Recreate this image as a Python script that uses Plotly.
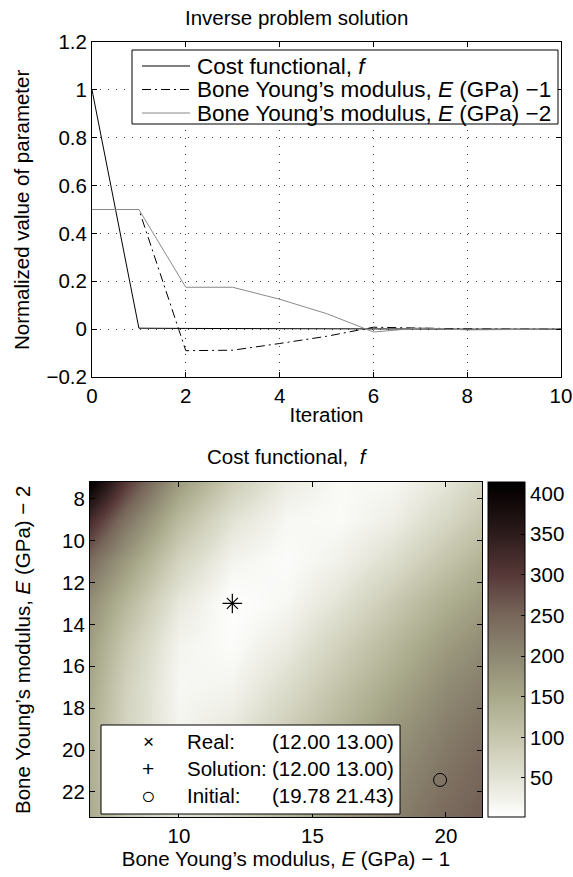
import plotly.graph_objects as go

# ---------------- data: top panel ----------------
iterations = [0, 1, 2, 3, 4, 5, 6, 7, 8, 9, 10]
cost_f = [1.0, 0.004, 0.003, 0.002, 0.001, 0.001, 0.0, 0.0, 0.0, 0.0, 0.0]
young_e1 = [0.5, 0.5, -0.09, -0.088, -0.06, -0.03, 0.008, 0.003, 0.001, 0.0, 0.0]
young_e2 = [0.5, 0.5, 0.175, 0.175, 0.125, 0.065, -0.012, 0.005, -0.003, 0.0, 0.0]
series_names = ["Cost functional, <i>f</i>",
                "Bone Young\u2019s modulus, <i>E</i> (GPa) \u22121",
                "Bone Young\u2019s modulus, <i>E</i> (GPa) \u22122"]
top_xticks = [0, 2, 4, 6, 8, 10]
top_yticks = [-0.2, 0, 0.2, 0.4, 0.6, 0.8, 1.0, 1.2]
top_yticklabels = ["\u22120.2", "0", "0.2", "0.4", "0.6", "0.8", "1", "1.2"]

# ---------------- data: bottom panel (cost surface) ----------------
grid_e1 = [6.67, 8, 10, 12, 14, 16, 18, 20, 21.35]
grid_e2 = [7.2, 9, 11, 13, 15, 17, 19, 21, 23.2]
cost_surface = [
    [414, 300, 170, 90, 35, 12, 15, 45, 75],
    [320, 230, 120, 50, 15, 10, 30, 70, 100],
    [240, 170, 75, 20, 8, 25, 60, 105, 135],
    [190, 125, 40, 2, 15, 50, 95, 140, 165],
    [165, 95, 20, 8, 35, 80, 125, 170, 195],
    [150, 80, 15, 20, 60, 105, 150, 195, 215],
    [140, 75, 20, 40, 85, 130, 175, 215, 235],
    [140, 80, 35, 60, 105, 150, 195, 230, 250],
    [145, 90, 50, 80, 125, 170, 210, 245, 260],
]
real_pt = (12.00, 13.00)
solution_pt = (12.00, 13.00)
initial_pt = (19.78, 21.43)
marker_legend = [("\u00d7", "Real:", "(12.00 13.00)", 19),
                 ("+", "Solution:", "(12.00 13.00)", 21),
                 ("\u25cb", "Initial:", "(19.78 21.43)", 24)]
bottom_xticks = [10, 15, 20]
bottom_yticks = [8, 10, 12, 14, 16, 18, 20, 22]
cbar_ticks = [50, 100, 150, 200, 250, 300, 350, 400]

W, H = 573, 877
FONT = "Liberation Sans, Arial, Helvetica, sans-serif"
FS = 20.5


def px_x(p):
    return p / W


def px_y(p):
    return 1 - p / H


line_styles = [dict(color="black", width=1),
               dict(color="black", width=1, dash="9px,4px,2px,4px"),
               dict(color="#8a8a8a", width=1)]

fig = go.Figure()

# ---- top panel lines
for ys, nm, st in zip([cost_f, young_e1, young_e2], series_names, line_styles):
    fig.add_trace(go.Scatter(x=iterations, y=ys, mode="lines", line=st, name=nm,
                             showlegend=False, xaxis="x", yaxis="y"))

# ---- bottom panel heatmap
colorscale = [
    [0.0, "#ffffff"],
    [0.117, "#e2e2d4"],
    [0.238, "#c6c6ae"],
    [0.36, "#a8a88a"],
    [0.48, "#8e8872"],
    [0.602, "#77665a"],
    [0.723, "#573838"],
    [0.845, "#2c1b1b"],
    [0.966, "#0a0404"],
    [1.0, "#000000"],
]
fig.add_trace(go.Heatmap(
    x=grid_e1, y=grid_e2, z=cost_surface, zsmooth="best",
    zmin=2, zmax=414, colorscale=colorscale, showlegend=False,
    xaxis="x2", yaxis="y2",
    colorbar=dict(
        x=px_x(488), xanchor="left", thickness=37, thicknessmode="pixels",
        len=335, lenmode="pixels", y=px_y(649.5), yanchor="middle",
        outlinewidth=1, outlinecolor="black",
        tickvals=cbar_ticks, ticks="inside", ticklen=4, tickcolor="black",
        tickfont=dict(family=FONT, size=FS, color="black"),
        xpad=0, ypad=0,
    ),
))
fig.add_trace(go.Scatter(x=[real_pt[0]], y=[real_pt[1]], mode="markers",
                         marker=dict(symbol="x-thin", size=11, line=dict(color="black", width=1.2)),
                         showlegend=False, xaxis="x2", yaxis="y2", name="Real"))
fig.add_trace(go.Scatter(x=[solution_pt[0]], y=[solution_pt[1]], mode="markers",
                         marker=dict(symbol="cross-thin", size=14, line=dict(color="black", width=1.2)),
                         showlegend=False, xaxis="x2", yaxis="y2", name="Solution"))
fig.add_trace(go.Scatter(x=[initial_pt[0]], y=[initial_pt[1]], mode="markers",
                         marker=dict(symbol="circle-open", size=13, color="black", line=dict(color="black", width=1)),
                         showlegend=False, xaxis="x2", yaxis="y2", name="Initial"))

axis_common = dict(showline=True, linecolor="black", linewidth=1, mirror="ticks",
                   ticks="inside", ticklen=5, tickcolor="black", zeroline=False,
                   tickfont=dict(family=FONT, size=FS, color="black"), automargin=False)

fig.update_layout(
    width=W, height=H,
    margin=dict(l=0, r=0, t=0, b=0),
    paper_bgcolor="white", plot_bgcolor="white",
    font=dict(family=FONT, size=FS, color="black"),
    showlegend=False,
    xaxis=dict(domain=[px_x(92), px_x(561)], anchor="y", range=[0, 10], tickvals=top_xticks,
               showgrid=True, gridcolor="#444", gridwidth=1, griddash="1px,7px",
               title=dict(text="Iteration", standoff=2, font=dict(family=FONT, size=FS)),
               **axis_common),
    yaxis=dict(domain=[px_y(377), px_y(42)], anchor="x", range=[-0.2, 1.2],
               tickvals=top_yticks, ticktext=top_yticklabels,
               showgrid=True, gridcolor="#444", gridwidth=1, griddash="1px,7px",
               **axis_common),
    xaxis2=dict(domain=[px_x(90), px_x(482)], anchor="y2", range=[6.67, 21.35], tickvals=bottom_xticks,
                showgrid=False,
                title=dict(text="Bone Young\u2019s modulus, <i>E</i> (GPa) \u2212 1", standoff=5,
                           font=dict(family=FONT, size=FS)),
                **axis_common),
    yaxis2=dict(domain=[px_y(817), px_y(482)], anchor="x2", range=[23.2, 7.2], tickvals=bottom_yticks,
                showgrid=False, **axis_common),
)


def ann(text, x, y, xanchor="center", size=FS, angle=0):
    fig.add_annotation(text=text, x=px_x(x), y=px_y(y), xref="paper", yref="paper",
                       showarrow=False, xanchor=xanchor, yanchor="middle", textangle=angle,
                       font=dict(family=FONT, size=size, color="black"))


# titles and y-axis titles
ann("Inverse problem solution", 296, 18)
ann("Cost functional,  <i>f</i>", 287, 456)
ann("Normalized value of parameter", 22, 210, angle=-90)
ann("Bone Young\u2019s modulus, <i>E</i> (GPa) \u2212 2", 22, 650, angle=-90)

# top-panel legend box
fig.add_shape(type="rect", xref="paper", yref="paper",
              x0=px_x(132), x1=px_x(558), y0=px_y(124), y1=px_y(50),
              line=dict(color="black", width=1), fillcolor="white", layer="above")
for i, (nm, st) in enumerate(zip(series_names, line_styles)):
    yy = 66 + 23.5 * i
    fig.add_shape(type="line", xref="paper", yref="paper",
                  x0=px_x(142), x1=px_x(190), y0=px_y(yy), y1=px_y(yy),
                  line=st, layer="above")
    ann(nm, 195, yy, xanchor="left", size=22.5)

# bottom-panel legend box
fig.add_shape(type="rect", xref="paper", yref="paper",
              x0=px_x(101), x1=px_x(400), y0=px_y(814), y1=px_y(725),
              line=dict(color="black", width=1), fillcolor="white", layer="above")
for i, (sym, lab, val, ssz) in enumerate(marker_legend):
    yy = 741 + 27 * i
    ann(sym, 148, yy, size=ssz)
    ann(lab, 185, yy, xanchor="left")
    ann(val, 396, yy, xanchor="right")

fig.write_html("out.html", config={"displayModeBar": False},
               post_script="document.body.style.margin='0';")
